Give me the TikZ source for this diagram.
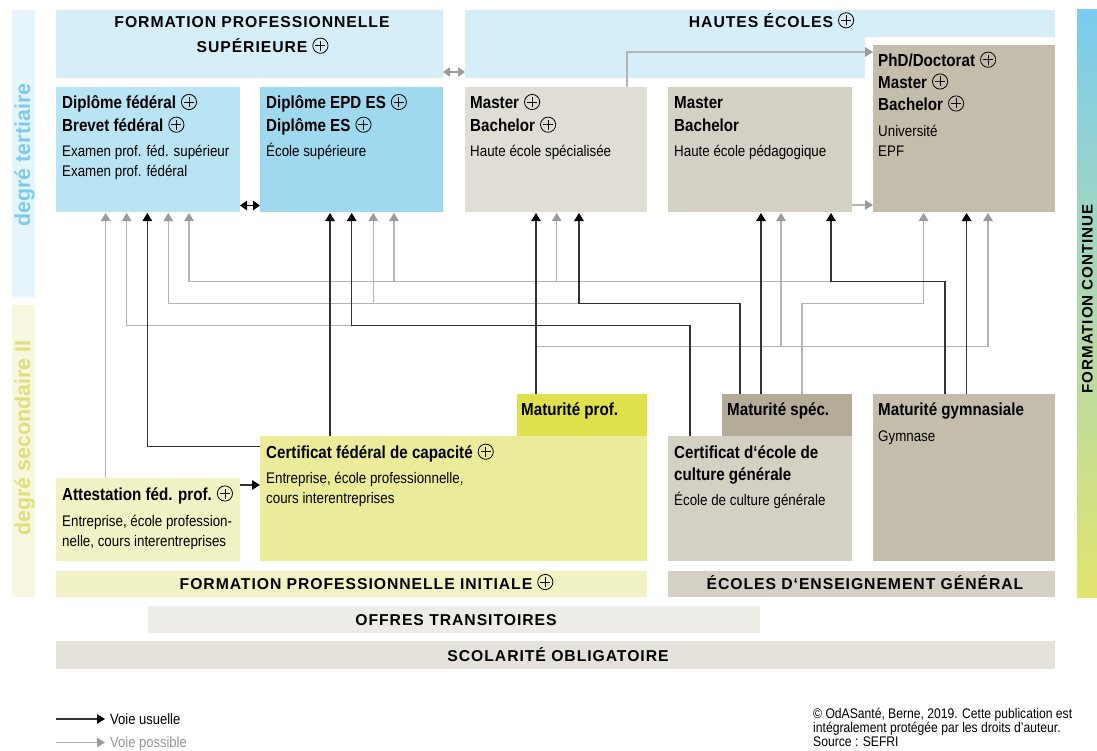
\documentclass[tikz,border=0pt]{standalone}
\usepackage{fontspec}
\setmainfont{Liberation Sans}[FakeStretch=0.87]
\newfontfamily\capsfont{Liberation Sans}[LetterSpace=6]
\newfontfamily\widefont{Liberation Sans}
\usetikzlibrary{arrows.meta,calc}
\definecolor{hdrblue}{RGB}{213,238,248}
\definecolor{dfblue}{RGB}{185,228,244}
\definecolor{esblue}{RGB}{158,217,239}
\definecolor{hescol}{RGB}{224,221,213}
\definecolor{hepcol}{RGB}{212,208,196}
\definecolor{unicol}{RGB}{197,189,171}
\definecolor{mpcol}{RGB}{222,224,76}
\definecolor{cfccol}{RGB}{235,236,154}
\definecolor{afpcol}{RGB}{241,243,196}
\definecolor{mscol}{RGB}{180,172,153}
\definecolor{offcol}{RGB}{238,236,230}
\definecolor{scocol}{RGB}{229,226,220}
\definecolor{tertbar}{RGB}{230,245,252}
\definecolor{terttxt}{RGB}{124,203,236}
\definecolor{secbar}{RGB}{247,247,224}
\definecolor{sectxt}{RGB}{222,224,122}
\definecolor{lineblack}{RGB}{50,50,50}
\definecolor{linegray}{RGB}{180,180,180}
\definecolor{tipgray}{RGB}{155,155,155}
\definecolor{legendgray}{RGB}{150,150,150}
\newcommand{\cplus}{\hspace{5bp}\tikz[x=1bp,y=1bp,baseline=0pt]{\draw[line width=0.8bp,black] (8,7) circle (7.6); \draw[line width=0.8bp,black] (3,7)--(13,7) (8,2)--(8,12);}}
\newcommand{\mkbox}[6]{\node[area, fill=#2, minimum width={(#5-#3)*1bp}, minimum height={(#6-#4)*1bp}] (#1) at (#3,#4) {};}
\tikzset{
  area/.style={inner sep=0pt, outer sep=0pt, anchor=north west, draw=none},
  usual/.style={draw=lineblack, line width=1.4bp, -{Triangle[width=9.5bp,length=8bp,color=black]}},
  possible/.style={draw=linegray, line width=1.4bp, -{Triangle[width=9.5bp,length=8bp,color=tipgray]}},
  usualboth/.style={draw=black, line width=1.4bp, {Triangle[width=9.5bp,length=7bp]}-{Triangle[width=9.5bp,length=7bp]}},
  possibleboth/.style={draw=tipgray, line width=1.4bp, {Triangle[width=9.5bp,length=7bp]}-{Triangle[width=9.5bp,length=7bp]}},
  ttl/.style={anchor=base west, inner sep=0pt, font=\bfseries\fontsize{17.5}{21}\selectfont},
  sub/.style={anchor=base west, inner sep=0pt, font=\fontsize{15.4}{19}\selectfont},
  hdr/.style={anchor=base, inner sep=0pt, font=\capsfont\bfseries\fontsize{15.8}{19}\selectfont},
  small/.style={anchor=base west, inner sep=0pt, font=\fontsize{14}{16}\selectfont},
}
\begin{document}
\begin{tikzpicture}[x=1bp,y=-1bp]
\useasboundingbox (0,0) rectangle (1097,751);
\fill[white] (0,0) rectangle (1097,751);

% side bars
\mkbox{tbar}{tertbar}{12}{10}{35}{297}
\mkbox{sbar}{secbar}{12}{305}{35}{597}
\node[rotate=90, inner sep=0pt, text=terttxt, font=\widefont\bfseries\fontsize{21.5}{24}\selectfont] (tertlbl) at (24.5,155) {degré tertiaire};
\node[rotate=90, inner sep=0pt, text=sectxt, font=\widefont\bfseries\fontsize{21.5}{24}\selectfont] (seclbl) at (24.5,438) {degré secondaire II};
\shade[top color={rgb,255:red,122;green,204;blue,240}, middle color={rgb,255:red,196;green,226;blue,196}, bottom color={rgb,255:red,226;green,228;blue,110}] (1077,10) rectangle (1097,597);
\node[rotate=90, inner sep=0pt, font=\capsfont\bfseries\fontsize{15.2}{18}\selectfont] (fclbl) at (1087.5,299) {FORMATION CONTINUE};

% headers
\mkbox{fps}{hdrblue}{56}{10}{443}{78}
\mkbox{hetop}{hdrblue}{465}{10}{1055}{37}
\mkbox{he}{hdrblue}{465}{10}{865}{78}
\node[hdr] (fpsl1) at (252,27.3) {FORMATION PROFESSIONNELLE};
\node[hdr] (fpsl2) at (252,52.7) {SUPÉRIEURE\rlap{\cplus}};
\node[hdr] (hel) at (761,27.3) {HAUTES ÉCOLES\rlap{\cplus}};

% tertiary boxes
\mkbox{df}{dfblue}{56}{87}{240}{212}
\mkbox{es}{esblue}{260}{87}{443}{212}
\mkbox{hes}{hescol}{465}{87}{647}{212}
\mkbox{hep}{hepcol}{668}{87}{852}{212}
\mkbox{uni}{unicol}{873}{45}{1055}{212}

\node[ttl] (dfa) at (62,109) {Diplôme fédéral\cplus};
\node[ttl] (dfb) at (62,131.7) {Brevet fédéral\cplus};
\node[sub] (dfc) at (62,156.7) {Examen prof. féd. supérieur};
\node[sub] (dfd) at (62,176.7) {Examen prof. fédéral};

\node[ttl] (esa) at (266,109) {Diplôme EPD ES\cplus};
\node[ttl] (esb) at (266,131.7) {Diplôme ES\cplus};
\node[sub] (esc) at (266,156.7) {École supérieure};

\node[ttl] (hesa) at (470,109) {Master\cplus};
\node[ttl] (hesb) at (470,131.7) {Bachelor\cplus};
\node[sub] (hesc) at (470,156.7) {Haute école spécialisée};

\node[ttl] (hepa) at (674,109) {Master};
\node[ttl] (hepb) at (674,131.7) {Bachelor};
\node[sub] (hepc) at (674,156.7) {Haute école pédagogique};

\node[ttl] (unia) at (878,66.7) {PhD/Doctorat\cplus};
\node[ttl] (unib) at (878,88.5) {Master\cplus};
\node[ttl] (unic) at (878,110.5) {Bachelor\cplus};
\node[sub] (unid) at (878,136.5) {Université};
\node[sub] (unie) at (878,156.5) {EPF};

% secondary boxes
\mkbox{mp}{mpcol}{517}{394}{647}{436}
\mkbox{cfc}{cfccol}{260}{436}{647}{561}
\mkbox{afp}{afpcol}{56}{478}{240}{561}
\mkbox{ms}{mscol}{722}{394}{852}{436}
\mkbox{ecg}{hepcol}{668}{436}{852}{561}
\mkbox{mg}{unicol}{873}{394}{1055}{561}

\node[ttl] (mpa) at (521,415.5) {Maturité prof.};
\node[ttl] (cfca) at (266,458.7) {Certificat fédéral de capacité\cplus};
\node[sub] (cfcb) at (266,483) {Entreprise, école professionnelle,};
\node[sub] (cfcc) at (266,503) {cours interentreprises};
\node[ttl] (afpa) at (62,500.5) {Attestation féd. prof.\cplus};
\node[sub] (afpb) at (62,526) {Entreprise, école profession-};
\node[sub] (afpc) at (62,546) {nelle, cours interentreprises};
\node[ttl] (msa) at (727,415.5) {Maturité spéc.};
\node[ttl] (ecga) at (674,458) {Certificat d‘école de};
\node[ttl] (ecgb) at (674,480.5) {culture générale};
\node[sub] (ecgc) at (674,505) {École de culture générale};
\node[ttl] (mga) at (878,415.5) {Maturité gymnasiale};
\node[sub] (mgb) at (878,441.5) {Gymnase};

% bottom bands
\mkbox{fpi}{afpcol}{56}{571}{647}{597}
\mkbox{eeg}{hepcol}{668}{571}{1055}{597}
\mkbox{off}{offcol}{148}{606}{760}{633}
\mkbox{sco}{scocol}{56}{641}{1055}{669}
\node[hdr] (fpil) at (356,589) {FORMATION PROFESSIONNELLE INITIALE\rlap{\cplus}};
\node[hdr] (eegl) at (865,589) {ÉCOLES D‘ENSEIGNEMENT GÉNÉRAL};
\node[hdr] (offl) at (456,625.5) {OFFRES TRANSITOIRES};
\node[hdr] (scol) at (558,661) {SCOLARITÉ OBLIGATOIRE};

% levels of horizontal runs
\coordinate (L1) at (0,281.7);
\coordinate (L2) at (0,303.3);
\coordinate (L3) at (0,325.7);
\coordinate (L4) at (0,346.7);
\coordinate (L5) at (0,205);
\coordinate (L6) at (0,72);
\coordinate (L7) at (0,485);
\coordinate (L8) at (0,446.7);
\coordinate (L9) at (0,205.5);
\coordinate (L10) at (0,52);

% arrow ports on the tertiary boxes
\coordinate (df1) at (105.7,213);
\coordinate (df2) at (126.7,213);
\coordinate (df3) at (147.3,213);
\coordinate (df4) at (168.3,213);
\coordinate (df5) at (189,213);
\coordinate (es1) at (330,213);
\coordinate (es2) at (351.7,213);
\coordinate (es3) at (373.3,213);
\coordinate (es4) at (394,213);
\coordinate (hes1) at (536,213);
\coordinate (hes2) at (556.7,213);
\coordinate (hes3) at (579,213);
\coordinate (hep1) at (761,213);
\coordinate (hep2) at (781,213);
\coordinate (hep3) at (831,213);
\coordinate (uni1) at (923.6,213);
\coordinate (uni2) at (966.6,213);
\coordinate (uni3) at (988,213);
\coordinate (hesT) at (627,87);

% sources on the secondary boxes
\coordinate (afpS) at (df1 |- afp.north);
\coordinate (cfcS) at (es1 |- cfc.north);
\coordinate (ecgS) at (690,436);
\coordinate (mpS) at (hes1 |- mp.north);
\coordinate (msS1) at (740,394);
\coordinate (msS2) at (hep1 |- ms.north);
\coordinate (msS3) at (802,394);
\coordinate (mgS1) at (945,394);
\coordinate (mgS2) at (uni2 |- mg.north);

% possible routes (grey)
\draw[possible] (afpS) -- (df1);
\draw[possible] (ecgS) -- (ecgS |- L3) -| (df2);
\draw[possible] (msS1) -- (msS1 |- L2) -| (df4);
\draw[possible] (es3 |- L2) -- (es3);
\draw[possible] (mgS1) -- (mgS1 |- L1) -| (df5);
\draw[possible] (es4 |- L1) -- (es4);
\draw[possible] (hes2 |- L1) -- (hes2);
\draw[possible] (mpS) -- (mpS |- L4) -| (uni3);
\draw[possible] (hep2 |- L4) -- (hep2);
\draw[possible] (msS3) -- (msS3 |- L2) -| (uni1);
\draw[possible] (hesT) |- (uni.west |- L10);
\draw[possible] (hep.east |- L5) -- (uni.west |- L5);
\draw[possibleboth] (fps.east |- L6) -- (he.west |- L6);

% usual routes (black)
\draw[usual] (afp.east |- L7) -- (cfc.west |- L7);
\draw[usual] (cfc.west |- L8) -| (df3);
\draw[usual] (cfcS) -- (es1);
\draw[usual] (ecgS) -- (ecgS |- L3) -| (es2);
\draw[usual] (mpS) -- (hes1);
\draw[usual] (msS1) -- (msS1 |- L2) -| (hes3);
\draw[usual] (msS2) -- (hep1);
\draw[usual] (mgS1) -- (mgS1 |- L1) -| (hep3);
\draw[usual] (mgS2) -- (uni2);
\draw[usualboth] (df.east |- L9) -- (es.west |- L9);

% legend
\coordinate (lgA) at (56,719);
\coordinate (lgB) at (105,719);
\coordinate (lgC) at (56,742.5);
\coordinate (lgD) at (105,742.5);
\draw[usual] (lgA) -- (lgB);
\draw[possible] (lgC) -- (lgD);
\node[sub, font=\fontsize{15}{18}\selectfont] (lgt1) at (110,724.3) {Voie usuelle};
\node[sub, font=\fontsize{15}{18}\selectfont, text=legendgray] (lgt2) at (110,747.6) {Voie possible};

% copyright
\node[small] (cp1) at (813,718) {© OdASanté, Berne, 2019. Cette publication est};
\node[small] (cp2) at (813,732.5) {intégralement protégée par les droits d'auteur.};
\node[small] (cp3) at (813,746.5) {Source : SEFRI};
\end{tikzpicture}
\end{document}
